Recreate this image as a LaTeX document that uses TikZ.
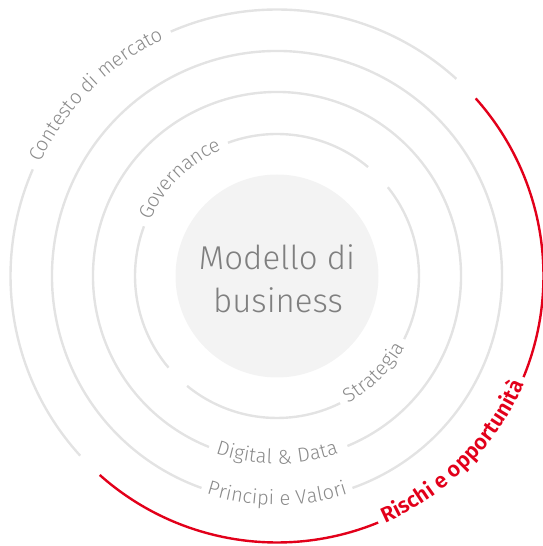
\documentclass[tikz,border=0pt]{standalone}
\usepackage{fontspec}
\IfFontExistsTF{Fira Sans Light}{\newfontfamily\lightfont{Fira Sans Light}}{%
  \IfFontExistsTF{Lato Light}{\newfontfamily\lightfont{Lato Light}}{%
    \IfFontExistsTF{Open Sans Light}{\newfontfamily\lightfont{Open Sans Light}}{%
      \newfontfamily\lightfont{Fira Sans}}}}
\IfFontExistsTF{Fira Sans SemiBold}{\newfontfamily\boldfont{Fira Sans SemiBold}}{%
  \newfontfamily\boldfont{Fira Sans}[UprightFont={* Bold}]}
\usetikzlibrary{decorations.text}
\definecolor{ringgray}{HTML}{E3E3E3}
\definecolor{lblgray}{HTML}{8A8A8A}
\definecolor{coregray}{HTML}{F3F3F3}
\definecolor{rred}{HTML}{E2001A}
\definecolor{ctext}{HTML}{7F7F7F}
\begin{document}
\begin{tikzpicture}[x=1pt,y=1pt,
  ringline/.style={draw=ringgray, line width=2.4pt},
  redline/.style={draw=rred, line width=2.4pt},
  lab/.style={decorate, decoration={text along path, text align=center, raise=-4pt, text color=lblgray, text={|\lightfont\fontsize{20}{20}\selectfont|#1}}},
  redlab/.style={decorate, decoration={text along path, text align=center, raise=-3pt, text color=rred, text={|\boldfont\fontsize{21.5}{21.5}\selectfont|#1}}},
  centertext/.style={font=\lightfont\fontsize{33}{40}\selectfont, text=ctext, anchor=base, inner sep=0pt}
  ]
\useasboundingbox (0,0) rectangle (543,546);
\coordinate (C) at (277,270);

% core
\node[circle, fill=coregray, minimum size=203pt, inner sep=0pt] (core) at (C) {};
\node[centertext] (t1) at (277,276) {Modello di};
\node[centertext] (t2) at (278,233) {business};

% ring 1 (Governance / Strategia)
\draw[ringline] (C) ++(-26.4:142) arc[start angle=-26.4, end angle=38.7, radius=142];
\draw[ringline] (C) ++(50.1:142) arc[start angle=50.1, end angle=110.2, radius=142];
\draw[ringline] (C) ++(159.5:142) arc[start angle=159.5, end angle=220.2, radius=142];
\draw[ringline] (C) ++(230.7:142) arc[start angle=230.7, end angle=296.4, radius=142];

% ring 2 (Digital & Data)
\draw[ringline] (C) ++(-67.5:184) arc[start angle=-67.5, end angle=248.3, radius=184];

% ring 3 (Principi e Valori)
\draw[ringline] (C) ++(-70.4:225) arc[start angle=-70.4, end angle=250.4, radius=225];

% ring 4 (Contesto di mercato)
\draw[ringline] (C) ++(47.7:266.5) arc[start angle=47.7, end angle=113.5, radius=266.5];
\draw[ringline] (C) ++(156.4:266.5) arc[start angle=156.4, end angle=222.4, radius=266.5];

% red arc
\draw[redline] (C) ++(-131.7:266.5) arc[start angle=-131.7, end angle=-67.7, radius=266.5];
\draw[redline] (C) ++(-22.3:266.5) arc[start angle=-22.3, end angle=41.8, radius=266.5];

% labels
\path[lab=Governance] (C) ++(180:142) arc[start angle=180, end angle=90, radius=142];
\path[lab={Contesto di mercato}] (C) ++(180:266.5) arc[start angle=180, end angle=90, radius=266.5];
\path[lab=Strategia] (C) ++(-90:142) arc[start angle=-90, end angle=0, radius=142];
\path[lab={Digital {\&} Data}] (C) ++(225:184) arc[start angle=225, end angle=315, radius=184];
\path[lab={Principi e Valori}] (C) ++(225:225) arc[start angle=225, end angle=315, radius=225];
\path[redlab={Rischi e opportunità}] (C) ++(-90:266.5) arc[start angle=-90, end angle=0, radius=266.5];
\end{tikzpicture}
\end{document}
